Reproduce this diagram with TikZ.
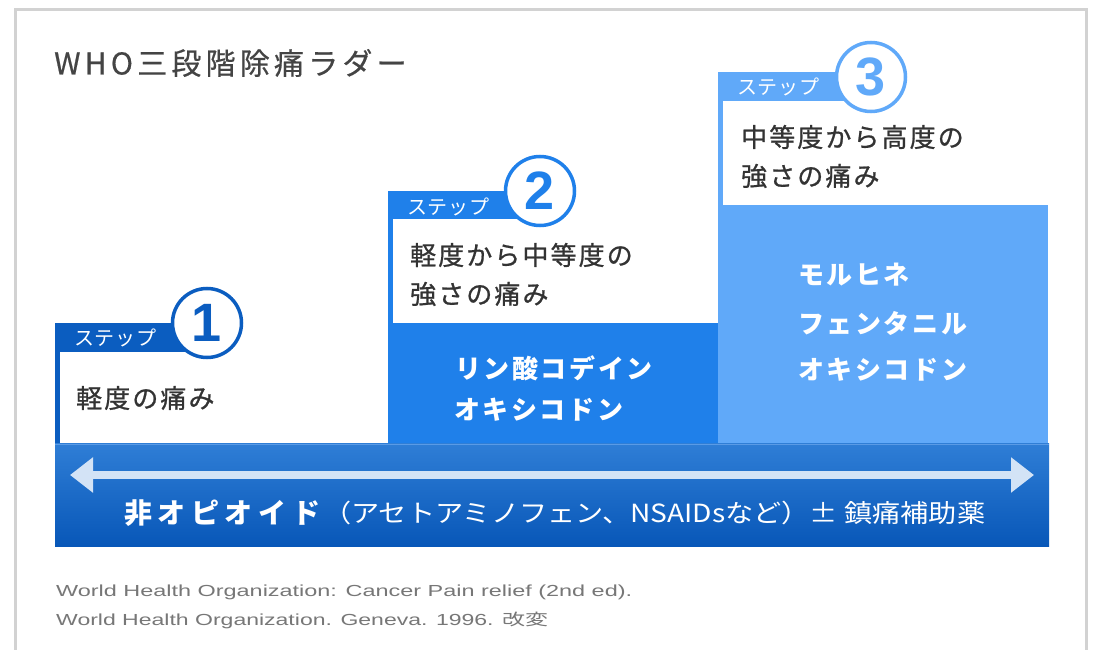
\documentclass[tikz,border=0pt]{standalone}
\usepackage{fontspec}
\usepackage{graphicx}
\setmainfont{Noto Sans CJK JP}
\newfontfamily\jpf{Noto Sans CJK JP}[LetterSpace=8, FakeBold=0.8]
\newfontfamily\jps{Noto Sans CJK JP}[LetterSpace=4]
\newfontfamily\jpd{Noto Sans CJK JP}[LetterSpace=10]
\newfontfamily\jpt{Noto Sans CJK JP}[LetterSpace=14, FakeBold=0.5]
\newfontfamily\jpw{Noto Sans CJK JP}[LetterSpace=20]
\newfontfamily\latf{Liberation Sans}
\usetikzlibrary{arrows.meta}
\definecolor{cone}{HTML}{0B5DC0}
\definecolor{ctwo}{HTML}{1F80EA}
\definecolor{cthree}{HTML}{60A9F9}
\definecolor{bandtop}{HTML}{2F7ED6}
\definecolor{bandbot}{HTML}{0857B8}
\definecolor{bandline}{HTML}{5A9BE6}
\definecolor{arrowc}{HTML}{D3E3F6}
\definecolor{txt}{HTML}{333333}
\definecolor{ttl}{HTML}{444444}
\definecolor{foot}{HTML}{777777}
\definecolor{framec}{HTML}{D2D2D2}
\tikzset{
  stepnum/.style={circle, draw=#1, fill=white, line width=3.5pt, minimum size=69pt, inner sep=0pt,
    text=#1, font=\latf\bfseries\fontsize{54}{54}\selectfont},
  steplabel/.style={anchor=west, inner sep=0pt, text=white, font=\jps\fontsize{20}{20}\selectfont},
  bodytext/.style={anchor=west, inner sep=0pt, text=txt, font=\jpf\fontsize{26}{26}\selectfont},
  drugtext/.style={anchor=west, inner sep=0pt, text=white, font=\jpd\bfseries\fontsize{26}{26}\selectfont},
  foottext/.style={anchor=west, inner sep=0pt, text=foot, font=\latf\fontsize{16}{16}\selectfont},
}
\begin{document}
\begin{tikzpicture}[x=1pt,y=-1pt]
\useasboundingbox (0,0) rectangle (1093,650);
\clip (0,0) rectangle (1093,650);
\fill[white] (0,0) rectangle (1093,650);
\draw[framec, line width=3pt] (15.5,9.5) rectangle (1086.5,700);

% title
\node[anchor=west, inner sep=0pt, text=ttl, font=\jpt\fontsize{30}{30}\selectfont] (title) at (54,63) {WHO三段階除痛ラダー};

% step 3 column
\fill[cthree] (718,72) rectangle (871,101);
\fill[cthree] (718,72) rectangle (723,205);
\fill[cthree] (718,205) rectangle (1048,443);
% step 2 column
\fill[ctwo] (388,191) rectangle (540,219);
\fill[ctwo] (388,191) rectangle (393,323);
\fill[ctwo] (388,323) rectangle (718,443);
% step 1 column
\fill[cone] (55,323) rectangle (207,352);
\fill[cone] (55,323) rectangle (60,443);

% bottom band
\shade[top color=bandtop, bottom color=bandbot] (55,443) rectangle (1049,546);
\draw[bandline, line width=1pt] (55,444) -- (1049,444);

% step circles
\node[stepnum=cone] (c1) at (207,323) {1};
\node[stepnum=ctwo] (c2) at (540,191) {2};
\node[stepnum=cthree] (c3) at (871,77) {3};

% step labels
\node[steplabel] (s1) at (74,338) {ステップ};
\node[steplabel] (s2) at (407,207) {ステップ};
\node[steplabel] (s3) at (737,87) {ステップ};

% pain descriptions
\node[bodytext] (b1) at (76,398) {軽度の痛み};
\node[bodytext] (b2a) at (410,255) {軽度から中等度の};
\node[bodytext] (b2b) at (410,294) {強さの痛み};
\node[bodytext] (b3a) at (741,137) {中等度から高度の};
\node[bodytext] (b3b) at (741,176) {強さの痛み};

% drugs
\node[drugtext] (d2a) at (455,368) {リン酸コデイン};
\node[drugtext] (d2b) at (454,410) {オキシコドン};
\node[drugtext] (d3a) at (798,275) {モルヒネ};
\node[drugtext] (d3b) at (798,323) {フェンタニル};
\node[drugtext] (d3c) at (798,370) {オキシコドン};

% arrow
\coordinate (al) at (70,475);
\coordinate (ar) at (1034,475);
\draw[arrowc, line width=8pt, {Triangle[length=23pt,width=34pt]}-{Triangle[length=23pt,width=34pt]}] (al) -- (ar);

% bottom text
\node[anchor=west, inner sep=0pt, text=white, font=\jpw\bfseries\fontsize{28}{28}\selectfont] (nb1) at (124,513) {非オピオイド};
\node[anchor=west, inner sep=0pt, text=white, font=\fontsize{25}{25}\selectfont] (nb2) at (323,513)
  {\resizebox{662pt}{\height}{（アセトアミノフェン、NSAIDsなど）± 鎮痛補助薬}};

% footnote
\node[foottext] (f1) at (56,592) {\resizebox{576pt}{\height}{World Health Organization: Cancer Pain relief (2nd ed).}};
\node[foottext] (f2) at (56,620) {\resizebox{492pt}{\height}{World Health Organization. Geneva. 1996. {\rmfamily 改変}}};
\end{tikzpicture}
\end{document}
